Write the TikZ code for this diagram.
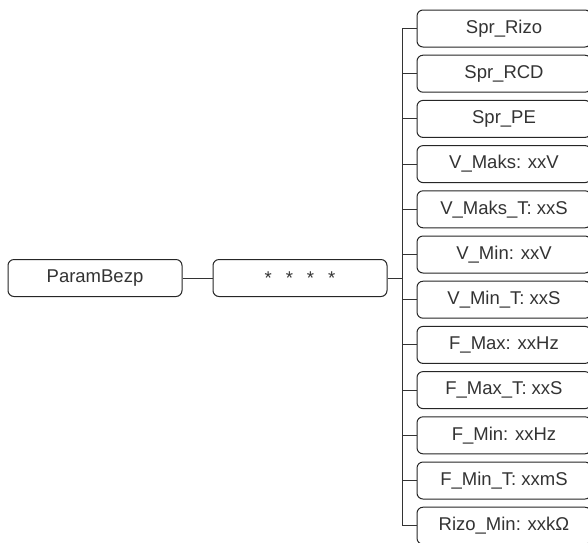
\documentclass[tikz,border=0pt]{standalone}
\usepackage{fontspec}
\setmainfont{Liberation Sans}
\begin{document}
\begin{tikzpicture}[x=1pt,y=-1pt,
  box/.style={draw=black!85, line width=1pt, rounded corners=6pt, minimum width=174pt, minimum height=37pt, inner sep=0pt, font=\fontsize{18.5}{22}\selectfont, text=black!80},
  link/.style={draw=black!80, line width=1pt}]
\useasboundingbox (0,0) rectangle (588,542);
\clip (0,0) rectangle (588,542);
\fill[white] (0,0) rectangle (588,542);
\node[box] (root) at (95,278) {ParamBezp};
\node[box] (stars) at (300,278) {*\hspace{14pt}*\hspace{14pt}*\hspace{14pt}*};
\coordinate (j) at (402,278);
\draw[link] (root) -- (stars);
\draw[link] (stars) -- (j);
\foreach \t [count=\i] in {Spr\_Rizo, Spr\_RCD, Spr\_PE, V\_Maks: xxV, V\_Maks\_T: xxS, V\_Min: xxV, V\_Min\_T: xxS, F\_Max: xxHz, F\_Max\_T: xxS, F\_Min: xxHz, F\_Min\_T: xxmS, Rizo\_Min: xxkΩ}{
  \node[box] (b\i) at (504,{28.5+45.2*(\i-1)}) {\t};
  \draw[link] (j) |- (b\i.west);
}
\end{tikzpicture}
\end{document}
